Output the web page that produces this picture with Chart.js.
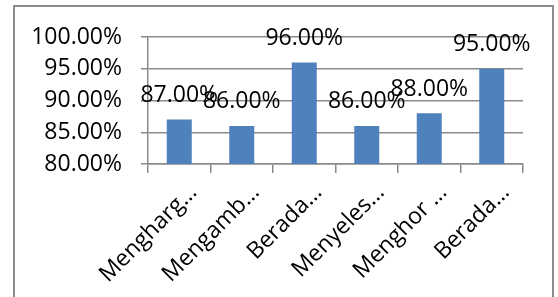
<!DOCTYPE html>
<html>
<head>
<meta charset="utf-8">
<script src="https://cdn.jsdelivr.net/npm/chart.js@4"></script>
<style>
  html, body { margin: 0; padding: 0; background: #fff; overflow: hidden; }
  #wrap { position: relative; width: 558px; height: 297px; }
  #frame {
    position: absolute; left: 13px; top: 5px; width: 541px; height: 330px;
    border: 2px solid #8c8c8c; box-sizing: border-box;
  }
  canvas { position: absolute; left: 0; top: 0; }
</style>
</head>
<body>
<div id="wrap">
  <div id="frame"></div>
  <canvas id="chart" width="558" height="297"></canvas>
</div>
<script>
'use strict';

// categories (truncated as in the original), values in %
const categories = ['Mengharg…', 'Mengamb…', 'Berada…', 'Menyeles…', 'Menghor …', 'Berada…'];
const values     = [87, 86, 96, 86, 88, 95];
const yMin = 80, yMax = 100, yStep = 5;

const FONT = "'Open Sans', sans-serif";
const GRID = '#8a8a8a';

const pct = v => Number(v).toFixed(2) + '%';

// value labels above each bar
const barLabels = {
  id: 'barLabels',
  afterDatasetsDraw(chart) {
    const ctx = chart.ctx;
    const meta = chart.getDatasetMeta(0);
    ctx.save();
    ctx.font = '23px ' + FONT;
    ctx.fillStyle = '#000';
    ctx.textAlign = 'center';
    ctx.textBaseline = 'middle';
    meta.data.forEach((bar, i) => {
      ctx.fillText(pct(values[i]), bar.x, bar.y - 24);
    });
    ctx.restore();
  }
};

new Chart(document.getElementById('chart').getContext('2d'), {
  type: 'bar',
  data: {
    labels: categories,
    datasets: [{
      data: values,
      backgroundColor: '#4f81bd',
      borderWidth: 0,
      categoryPercentage: 1,
      barPercentage: 0.4
    }]
  },
  options: {
    responsive: false,
    animation: false,
    layout: { padding: { top: 37, right: 35, left: 0, bottom: 0 } },
    plugins: { legend: { display: false }, tooltip: { enabled: false } },
    scales: {
      x: {
        afterFit: s => { s.height = 133; },
        grid: { drawOnChartArea: false, drawTicks: true, tickLength: 9, color: GRID, lineWidth: 1.5 },
        border: { color: GRID, width: 1.5 },
        ticks: {
          color: '#000', font: { family: FONT, size: 23 },
          minRotation: 45, maxRotation: 45, autoSkip: false,
          labelOffset: 14, padding: 6
        }
      },
      y: {
        min: yMin, max: yMax,
        afterFit: s => { s.width = 148; },
        grid: { color: GRID, lineWidth: 1.5, tickLength: 7 },
        border: { color: GRID, width: 1.5 },
        ticks: {
          stepSize: yStep, color: '#000', padding: 19,
          font: { family: FONT, size: 23 },
          callback: v => pct(v)
        }
      }
    }
  },
  plugins: [barLabels]
});
</script>
</body>
</html>
